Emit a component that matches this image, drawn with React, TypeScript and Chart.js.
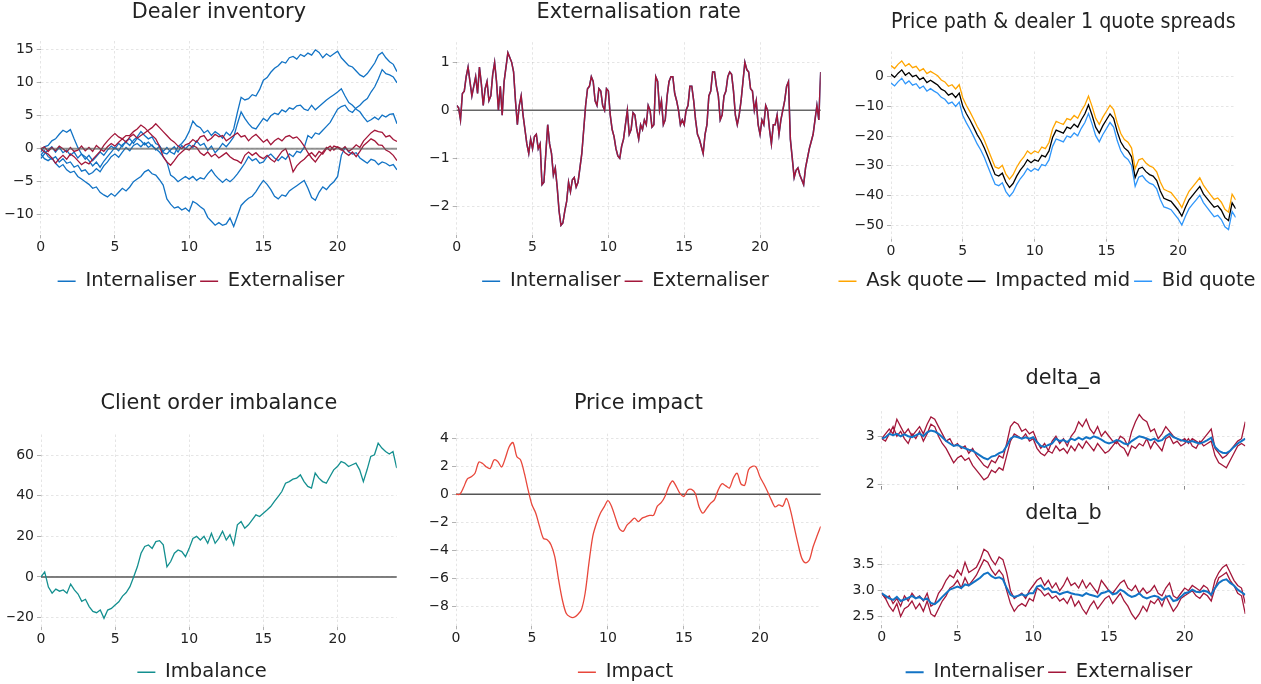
import React, { useEffect, useRef } from "react";
import { Chart, registerables } from "chart.js";

Chart.register(...registerables);

const FONT = "'DejaVu Sans', Verdana, sans-serif";
Chart.defaults.font.family = FONT;
Chart.defaults.color = "#222";

// time grids: 0 .. 24 in quarter steps (97 samples) and eighth steps (193 samples)
const TIMES: number[] = Array.from({ length: 97 }, (_, i) => i / 4);
const TIMES_FINE: number[] = Array.from({ length: 193 }, (_, i) => i / 8);

// ---------- Dealer inventory ----------
const INV_INT_1 = [
  -0.5, 0.3, 0.5, 1.2, 1.5, 2.2, 2.8, 2.5, 2.9, 1.5, 0.2, -0.8, -1.2,
  -1.8, -2.6, -2.0, -2.8, -1.9, -1.2, -0.5, 0.2, -0.3, 0.6, 1.0, 0.5,
  1.3, 1.8, 2.6, 2.0, 1.5, 1.8, 0.8, 0.5, -0.4, 0.2, -0.5, -0.8,
  0.3, 0.8, 1.5, 2.6, 4.2, 3.5, 3.2, 2.4, 2.8, 2.0, 2.6, 2.2,
  1.6, 2.5, 2.0, 3.0, 5.5, 7.8, 7.4, 7.6, 8.2, 8.0, 9.0, 10.4,
  10.8, 11.6, 12.2, 12.6, 13.2, 13.0, 13.8, 14.0, 13.6, 14.3, 14.0, 14.5,
  14.2, 15.0, 14.6, 13.8, 14.4, 14.0, 14.4, 14.8, 13.8, 13.2, 12.6, 12.4,
  11.8, 11.2, 10.9, 11.4, 12.2, 13.0, 14.2, 14.6, 13.8, 13.2, 12.8, 11.7,
];
const INV_INT_2 = [
  -1.0, -0.3, -1.2, -1.6, -1.2, -2.0, -1.5, -2.2, -2.0, -2.8, -2.5, -3.4, -3.2,
  -3.9, -3.6, -3.0, -3.5, -2.6, -2.0, -1.2, -0.8, -1.3, -0.5, 0.2, -0.3,
  0.5, 0.8, 0.3, 0.9, 0.2, 0.6, -0.2, 0.4, -0.6, -0.8, -0.2, 0.3,
  -0.5, 0.5, 0.0, 0.6, 0.2, 1.2, 0.5, 0.8, -0.2, 0.4, -0.6, 0.0,
  0.8, 0.3, 1.0, 1.8, 3.8, 5.6, 4.6, 3.8, 3.2, 3.0, 3.8, 4.6,
  4.2, 5.0, 5.4, 5.2, 5.9, 5.6, 6.2, 6.0, 6.5, 6.6, 6.0, 5.8,
  6.6, 5.9, 6.4, 6.9, 7.4, 7.8, 8.2, 8.6, 9.1, 8.0, 7.0, 6.6,
  6.0, 5.6, 4.8, 4.1, 4.4, 4.8, 4.4, 5.1, 4.8, 5.2, 5.3, 3.8,
];
const INV_INT_3 = [
  -1.5, -0.8, -0.2, 0.3, -0.5, 0.2, -0.6, -0.2, -1.0, -0.5, -1.4, -0.8, -1.6,
  -1.0, -1.8, -1.2, -0.5, -1.0, -0.2, 0.4, 0.0, 0.8, 0.3, 1.2, 1.5,
  0.8, 1.6, 1.2, 0.6, 1.0, 0.4, 0.0, -0.5, -1.2, -2.0, -4.0, -4.4,
  -5.0, -4.6, -4.2, -4.6, -4.2, -4.8, -4.4, -4.6, -3.8, -3.2, -4.0, -4.6,
  -5.1, -4.6, -5.0, -4.5, -3.8, -3.0, -2.2, -1.2, -1.8, -1.5, -2.2, -2.0,
  -1.2, -0.8, -1.4, -1.8, -1.2, -1.6, -0.8, -1.2, -0.4, -0.6, 0.2, 2.0,
  1.6, 2.4, 2.2, 2.8, 3.4, 4.0, 5.0, 6.0, 6.4, 6.6, 5.8, 5.5,
  6.2, 6.6, 7.2, 7.6, 8.6, 9.4, 10.6, 12.0, 11.4, 11.2, 10.9, 10.0,
];
const INV_INT_4 = [
  -0.8, -1.5, -1.8, -1.4, -2.2, -2.8, -2.4, -3.2, -3.6, -3.4, -4.2, -4.6, -5.0,
  -5.4, -6.0, -5.8, -6.6, -7.0, -7.3, -6.8, -7.2, -6.6, -6.0, -6.4, -5.8,
  -5.0, -4.6, -4.2, -3.5, -3.2, -3.8, -4.0, -4.7, -5.5, -7.6, -8.4, -9.0,
  -8.8, -9.3, -9.0, -9.5, -8.0, -8.3, -8.8, -9.2, -10.4, -11.0, -11.6, -11.2,
  -11.6, -11.4, -10.5, -11.8, -10.2, -8.6, -8.0, -7.5, -7.2, -6.5, -5.6, -4.8,
  -5.4, -6.2, -7.2, -7.6, -7.0, -7.2, -6.4, -6.0, -5.6, -5.2, -4.8, -6.0,
  -7.4, -7.8, -6.6, -5.8, -6.2, -5.5, -5.0, -4.2, -1.0, 0.2, -0.5, -0.8,
  -0.6, -1.4, -1.8, -2.2, -1.6, -1.8, -2.4, -2.0, -2.2, -2.6, -2.4, -3.2,
];
const INV_EXT_1 = [
  0.0, 0.3, -0.4, 0.2, -0.3, 0.4, 0.0, -0.5, 0.2, -0.4, -0.2, 0.4, -0.3,
  0.2, -0.4, 0.5, 0.0, -0.4, 0.3, 0.8, 0.4, 1.0, 1.5, 1.0, 1.8,
  2.2, 1.6, 2.0, 2.4, 2.8, 3.2, 3.8, 3.2, 2.6, 2.0, 1.4, 1.0,
  0.4, 0.0, 0.6, 0.8, 1.4, 1.0, 1.8, 2.0, 1.2, 1.6, 2.2, 1.8,
  2.0, 1.2, 1.6, 2.0, 2.4, 1.8, 2.0, 1.2, 1.8, 2.2, 1.6, 1.0,
  1.4, 0.6, 1.2, 1.6, 1.2, 1.8, 2.0, 1.6, 1.8, 1.2, 0.4, -0.6,
  -1.4, -2.0, -1.2, -0.5, 0.2, -0.3, 0.4, 0.2, -0.2, 0.3, -0.4, 0.0,
  0.6, 0.2, 1.2, 1.8, 2.4, 2.8, 2.6, 2.5, 1.8, 2.0, 1.4, 1.1,
];
const INV_EXT_2 = [
  0.0, -0.5, -0.8, -1.4, -2.2, -1.5, -1.0, -1.6, -0.8, -1.2, -1.8, -2.4, -2.0,
  -2.3, -1.6, -1.0, -0.4, 0.5, 1.2, 1.8, 2.3, 1.8, 1.5, 2.0, 2.0,
  2.6, 3.0, 3.6, 3.2, 2.6, 2.0, 1.5, 0.4, -1.2, -2.0, -2.5, -1.8,
  -1.0, -0.5, 0.0, -0.2, 0.5, 0.2, -0.6, -1.0, -0.5, -1.2, -0.8, -1.4,
  -1.0, -0.6, -1.2, -1.6, -1.8, -2.2, -1.0, -0.5, -1.0, -0.6, -1.2, -1.5,
  -1.0, -1.6, -2.0, -1.2, -0.4, 0.0, -1.4, -3.5, -2.6, -2.0, -1.6, -1.0,
  -0.6, -1.2, -0.4, -0.8, 0.0, 0.4, -0.2, 0.3, 0.0, -0.6, -1.0, -0.5,
  -1.2, -0.4, 0.5, 1.0, 1.5, 1.2, 0.6, 0.5, -0.2, -0.5, -1.0, -1.8,
];

// ---------- Externalisation rate (eighth steps, one row per unit of time) ----------
const EXT_RATE = [
  0.1, 0.05, -0.2, 0.35, 0.4, 0.7, 0.9, 0.6,
  0.3, 0.5, 0.7, 0.35, 0.9, 0.55, 0.1, 0.45,
  0.6, 0.2, 0.3, 0.75, 1.0, 0.6, 0.0, 0.5,
  -0.1, 0.6, 0.9, 1.2, 1.1, 1.0, 0.8, 0.2,
  -0.3, 0.1, 0.3, -0.1, -0.4, -0.7, -0.9, -0.6,
  -0.8, -0.55, -0.5, -0.8, -0.7, -1.55, -1.5, -0.9,
  -0.3, -0.7, -0.9, -1.35, -1.2, -1.6, -2.1, -2.4,
  -2.35, -2.1, -1.9, -1.5, -1.7, -1.45, -1.4, -1.6,
  -1.5, -1.2, -0.9, -0.4, 0.1, 0.45, 0.5, 0.7,
  0.6, 0.2, 0.1, 0.45, 0.4, 0.1, 0.0, 0.45,
  0.4, -0.1, -0.4, -0.55, -0.8, -0.95, -1.0, -0.75,
  -0.6, -0.3, 0.0, -0.5, -0.4, -0.05, -0.1, -0.4,
  -0.6, -0.3, -0.4, -0.2, -0.3, 0.1, 0.0, -0.35,
  -0.3, 0.7, 0.6, 0.0, 0.2, -0.3, -0.2, 0.3,
  0.6, 0.7, 0.7, 0.35, 0.2, 0.0, -0.3, -0.2,
  -0.3, 0.0, 0.1, 0.5, 0.5, 0.2, -0.2, -0.5,
  -0.6, -0.75, -0.9, -0.5, -0.3, 0.3, 0.4, 0.8,
  0.8, 0.5, 0.3, -0.2, -0.1, 0.3, 0.4, 0.7,
  0.8, 0.75, 0.4, -0.1, -0.3, -0.1, 0.2, 0.6,
  1.0, 0.85, 0.8, 0.45, 0.4, 0.0, 0.2, -0.3,
  -0.5, -0.2, -0.3, 0.1, 0.0, -0.4, -0.7, -0.3,
  -0.3, -0.1, -0.5, -0.2, 0.0, 0.2, 0.5, 0.6,
  -0.6, -1.0, -1.4, -1.25, -1.2, -1.35, -1.45, -1.55,
  -1.2, -1.0, -0.8, -0.65, -0.5, -0.2, 0.1, -0.2,
  0.8,
];

// ---------- Price path (impacted mid) ----------
const MID_PRICE = [
  0.8, -0.2, 1.2, 2.3, 0.5, 1.4, 0.0, 0.5, -1.0, -0.3, -2.0, -1.2, -2.0,
  -2.8, -4.2, -4.8, -6.2, -5.6, -7.0, -5.5, -10.0, -12.5, -14.6, -17.0, -19.5,
  -21.5, -24.0, -27.0, -30.0, -33.0, -33.5, -32.5, -35.5, -37.3, -36.0, -33.5, -31.5,
  -30.0, -28.0, -29.0, -28.0, -28.5, -26.5, -27.0, -25.0, -20.5, -18.0, -18.5, -19.0,
  -17.0, -17.5, -16.0, -17.0, -14.5, -12.5, -9.5, -13.0, -17.0, -19.0, -16.5, -14.5,
  -12.5, -14.0, -18.5, -22.0, -24.0, -25.0, -27.0, -34.0, -31.0, -30.5, -32.0, -33.0,
  -33.5, -35.0, -38.5, -41.0, -41.5, -42.0, -43.5, -45.0, -47.0, -44.0, -41.5, -40.0,
  -38.5, -37.0, -39.5, -41.0, -42.5, -44.0, -43.5, -45.0, -47.5, -48.5, -42.5, -44.5,
];

// ---------- Quote spreads delta_a ----------
const DELTA_A_INT = [
  2.95, 2.98, 3.05, 3.02, 3.05, 3.0, 3.04, 3.0, 2.98, 3.02, 3.06, 3.0, 3.08,
  3.12, 3.1, 3.05, 2.98, 2.9, 2.85, 2.8, 2.82, 2.78, 2.75, 2.72, 2.7,
  2.65, 2.6, 2.55, 2.52, 2.58, 2.6, 2.65, 2.68, 2.8, 2.95, 3.0, 2.98,
  2.95, 2.98, 2.95, 2.98, 2.88, 2.8, 2.78, 2.82, 2.85, 2.95, 2.9, 2.92,
  2.88, 2.95, 2.92, 2.97, 2.93, 2.98, 2.95, 3.0, 2.97, 2.93, 2.88, 2.85,
  2.88, 2.92, 2.9, 2.85, 2.83, 2.9, 2.95, 3.0, 2.98, 2.95, 2.92, 2.95,
  2.9, 2.92, 3.0, 3.05, 2.98, 2.95, 2.92, 2.9, 2.88, 2.9, 2.87, 2.85,
  2.88, 2.92, 2.97, 2.78, 2.7, 2.66, 2.65, 2.7, 2.78, 2.85, 2.9, 2.95,
];
const DELTA_A_EXT_1 = [
  2.95, 3.05, 3.15, 3.05, 3.35, 3.2, 3.05, 3.15, 3.0, 3.1, 3.2, 3.05, 3.25,
  3.4, 3.35, 3.2, 3.05, 2.9, 2.95, 2.8, 2.85, 2.75, 2.8, 2.65, 2.75,
  2.6, 2.5, 2.4, 2.35, 2.5, 2.45, 2.6, 2.55, 2.85, 3.2, 3.3, 3.25,
  3.1, 3.15, 3.05, 3.1, 2.9, 2.75, 2.85, 2.7, 2.9, 3.0, 2.85, 2.95,
  2.8, 3.0, 3.1, 3.3, 3.2, 3.35, 3.15, 3.05, 3.2, 3.0, 3.1, 3.0,
  2.9, 2.85, 3.0, 2.95, 2.8, 3.1, 3.3, 3.45, 3.35, 3.3, 3.1, 3.15,
  2.95, 3.05, 3.2, 3.1, 3.0, 2.95, 2.9, 2.95, 2.85, 2.95, 2.9, 2.85,
  2.95, 3.05, 3.15, 2.75, 2.65, 2.55, 2.6, 2.7, 2.8, 2.9, 2.95, 3.3,
];
const DELTA_A_EXT_2 = [
  2.95, 2.9, 3.05, 3.2, 3.0, 3.1, 2.95, 2.85, 3.05, 2.95, 3.1, 2.9, 3.05,
  3.25, 3.2, 3.0, 2.85, 2.75, 2.6, 2.45, 2.55, 2.6, 2.5, 2.55, 2.4,
  2.3, 2.2, 2.1, 2.15, 2.3, 2.25, 2.35, 2.3, 2.6, 2.9, 3.05, 3.0,
  2.95, 3.05, 2.9, 2.95, 2.75, 2.65, 2.6, 2.7, 2.65, 2.8, 2.7, 2.75,
  2.65, 2.8, 2.7, 2.85, 2.75, 2.9, 2.8, 2.7, 2.85, 2.75, 2.65, 2.7,
  2.8, 2.9, 2.8, 2.75, 2.6, 2.8, 2.75, 2.85, 2.8, 2.95, 2.75, 2.9,
  2.8, 2.7, 2.95, 3.0, 2.85, 2.9, 2.8, 2.85, 2.95, 2.8, 2.75, 2.9,
  2.8, 2.85, 2.9, 2.6, 2.45, 2.4, 2.35, 2.5, 2.65, 2.8, 2.85, 2.8,
];

// ---------- Quote spreads delta_b ----------
const DELTA_B_INT = [
  2.95, 2.9, 2.85, 2.82, 2.88, 2.8, 2.83, 2.86, 2.9, 2.85, 2.88, 2.82, 2.85,
  2.76, 2.74, 2.8, 2.88, 2.95, 3.02, 3.05, 3.08, 3.05, 3.12, 3.1, 3.15,
  3.2, 3.25, 3.32, 3.35, 3.28, 3.24, 3.26, 3.22, 3.05, 2.92, 2.88, 2.9,
  2.93, 2.9, 2.95, 2.95, 3.08, 3.1, 3.02, 3.05, 2.97, 2.98, 2.93, 2.96,
  2.98, 2.95, 2.93, 2.92, 2.9, 2.95, 2.92, 2.9, 2.88, 2.95, 2.97, 3.0,
  2.93, 2.95, 3.02, 2.98, 2.92, 2.88, 2.9, 2.95, 2.88, 2.85, 2.88, 2.9,
  2.88, 2.82, 2.88, 2.9, 2.8, 2.82, 2.88, 2.95, 2.97, 3.02, 2.98, 2.97,
  3.0, 2.98, 2.92, 3.05, 3.15, 3.2, 3.22, 3.15, 3.1, 3.02, 2.97, 2.92,
];
const DELTA_B_EXT_1 = [
  2.95, 2.85, 2.9, 2.75, 2.85, 2.7, 2.9, 2.8, 2.95, 2.85, 2.9, 2.8, 2.95,
  2.7, 2.75, 2.95, 3.05, 3.2, 3.3, 3.25, 3.4, 3.3, 3.55, 3.35, 3.4,
  3.45, 3.6, 3.8, 3.75, 3.6, 3.5, 3.65, 3.6, 3.35, 3.0, 2.85, 2.9,
  2.95, 2.85, 3.0, 3.1, 3.2, 3.25, 3.1, 3.2, 3.05, 3.15, 3.0, 3.1,
  3.25, 3.1, 3.15, 3.05, 3.2, 3.05, 3.15, 3.05, 2.95, 3.2, 3.1, 3.0,
  2.95, 3.05, 3.15, 3.2, 3.05, 3.0, 3.1, 2.95, 3.05, 2.95, 3.0, 3.1,
  2.95, 2.9, 3.05, 3.15, 2.9, 2.85, 2.95, 3.05, 3.0, 3.1, 3.05, 3.0,
  3.1, 3.05, 2.9, 3.2, 3.35, 3.45, 3.5, 3.35, 3.2, 3.1, 3.05, 2.75,
];
const DELTA_B_EXT_2 = [
  2.95, 2.85, 2.7, 2.6, 2.75, 2.5, 2.65, 2.7, 2.8, 2.65, 2.75, 2.6, 2.8,
  2.55, 2.5, 2.65, 2.8, 2.9, 3.05, 3.1, 3.2, 3.05, 3.25, 3.1, 3.2,
  3.3, 3.45, 3.6, 3.55, 3.4, 3.3, 3.4, 3.3, 3.0, 2.75, 2.6, 2.7,
  2.75, 2.7, 2.85, 2.8, 3.05, 3.0, 2.9, 2.95, 2.85, 2.9, 2.8, 2.85,
  2.75, 2.9, 2.7, 2.8, 2.65, 2.55, 2.7, 2.8, 2.65, 2.75, 2.85, 2.9,
  2.75, 2.85, 2.95, 2.8, 2.7, 2.55, 2.45, 2.55, 2.7, 2.6, 2.8, 2.75,
  2.85, 2.7, 2.9, 2.75, 2.6, 2.7, 2.85, 2.9, 2.95, 3.0, 2.9, 2.85,
  2.95, 2.9, 2.8, 3.05, 3.25, 3.3, 3.35, 3.2, 3.1, 2.95, 2.9, 2.55,
];

// dealer 1 quotes = impacted mid +/- its spreads
const ASK_QUOTE = MID_PRICE.map((m, i) => m + DELTA_A_INT[i]);
const BID_QUOTE = MID_PRICE.map((m, i) => m - DELTA_B_INT[i]);

// ---------- Client order imbalance ----------
const IMBALANCE = [
  0, 2.5, -5, -8, -6, -7, -6.4, -8, -3.5, -6.4, -8.4, -12, -11,
  -14.6, -17, -17.6, -16.3, -20.4, -16.3, -15.5, -13.8, -12.2, -9.4, -7.7, -4.8,
  0, 5, 11.7, 15, 15.8, 14.1, 17.4, 17.9, 15.8, 5, 7.6, 11.7,
  13.3, 12.5, 10, 14.1, 19, 20, 18.2, 20, 16.6, 21.5, 16.6, 19,
  22.5, 18.2, 20.8, 15.8, 25.7, 27.3, 24, 25.7, 28.1, 30.6, 29.8, 31.4,
  33, 34.7, 37.2, 39.6, 42.1, 46.2, 47, 48.2, 48.7, 50.3, 47, 44.6,
  43.8, 51.2, 48.7, 47, 46.2, 49.5, 52.8, 54.4, 56.9, 56.1, 54.4, 55.3,
  56.1, 52.8, 47, 52.8, 59.4, 60.2, 65.9, 63.5, 61.8, 60.6, 61.8, 53.6,
];

// ---------- Price impact ----------
const IMPACT = [
  0, 0, 0.5, 1.1, 1.25, 1.5, 2.3, 2.2, 1.95, 1.85, 2.45, 2.35, 1.95,
  2.6, 3.4, 3.7, 2.7, 2.45, 1.5, 0.3, -0.75, -1.35, -2.3, -3.15, -3.25,
  -3.6, -4.45, -6.1, -7.55, -8.5, -8.75, -8.8, -8.6, -8.25, -7.05, -4.9, -3.0,
  -2.05, -1.35, -0.9, -0.45, -0.9, -1.7, -2.45, -2.65, -2.2, -1.95, -1.7, -1.95,
  -1.7, -1.6, -1.5, -1.5, -0.85, -0.6, -0.15, 0.55, 0.95, 0.55, 0.05, -0.15,
  0.3, 0.35, 0.05, -0.9, -1.35, -1.0, -0.65, -0.4, 0.3, 0.75, 0.6, 0.45,
  1.15, 1.5, 0.75, 0.65, 1.75, 2.0, 1.95, 1.25, 0.75, 0.2, -0.4, -0.9,
  -0.75, -0.85, -0.3, -1.1, -2.3, -3.5, -4.55, -4.9, -4.7, -3.75, -3.0, -2.3,
];

// ---------- colours ----------
const C_INT = "#1273c5";
const C_EXT = "#a3173a";
const C_ASK = "#ffa500";
const C_MID = "#000000";
const C_BID = "#2f96fa";
const C_IMB = "#138f8f";
const C_IMP = "#e8473b";

type Series = {
  label: string;
  data: number[];
  times?: number[];
  color: string;
  width?: number;
  legend?: boolean;
  order?: number;
  tension?: number;
};

type Panel = {
  title: string;
  series: Series[];
  yMin: number;
  yMax: number;
  yStep: number;
  yDec?: number;
  left: number;
  top: number;
  w: number;
  h: number;
  padL: number;
  padR: number;
  yW: number;
  xH: number;
  rightSpacer?: number;
  titlePB: number;
  xLabels: boolean;
  legend: boolean;
  zero?: { color: string; width: number; above: boolean };
};

const fmt = (dec?: number) => (v: any) => {
  const n = Number(v);
  const s = dec ? n.toFixed(dec) : String(Math.round(n * 1000) / 1000);
  return s.replace("-", "\u2212");
};

const PANELS: Panel[] = [
  {
    title: "Dealer inventory",
    series: [
      { label: "Internaliser", data: INV_INT_1, color: C_INT, order: 1 },
      { label: "Internaliser", data: INV_INT_2, color: C_INT, order: 1, legend: false },
      { label: "Internaliser", data: INV_INT_3, color: C_INT, order: 1, legend: false },
      { label: "Internaliser", data: INV_INT_4, color: C_INT, order: 1, legend: false },
      { label: "Externaliser", data: INV_EXT_1, color: C_EXT, order: 0 },
      { label: "Externaliser", data: INV_EXT_2, color: C_EXT, order: 0, legend: false },
    ],
    yMin: -13.14, yMax: 16.34, yStep: 5,
    left: 0, top: 0, w: 397, h: 301, padL: 5, padR: 0, yW: 35.7, xH: 32.1, titlePB: 16.04,
    xLabels: true, legend: true,
    zero: { color: "rgba(90,90,90,0.65)", width: 2, above: true },
  },
  {
    title: "Externalisation rate",
    series: [
      { label: "Internaliser", data: EXT_RATE, times: TIMES_FINE, color: C_INT, order: 1, width: 1.5 },
      { label: "Externaliser", data: EXT_RATE, times: TIMES_FINE, color: C_EXT, order: 0, width: 1.5 },
    ],
    yMin: -2.6, yMax: 1.42, yStep: 1,
    left: 420, top: 0, w: 401, h: 301, padL: 10.3, padR: 0.3, yW: 26.4, xH: 32.5, titlePB: 17.24,
    xLabels: true, legend: true,
    zero: { color: "#666", width: 1.4, above: false },
  },
  {
    title: "Price path & dealer 1 quote spreads",
    series: [
      { label: "Ask quote", data: ASK_QUOTE, color: C_ASK },
      { label: "Impacted mid", data: MID_PRICE, color: C_MID },
      { label: "Bid quote", data: BID_QUOTE, color: C_BID },
    ],
    yMin: -54.6, yMax: 8.5, yStep: 10,
    left: 830, top: 10, w: 434, h: 291, padL: 0, padR: 0, yW: 61, xH: 28.8, rightSpacer: 28.3, titlePB: 16.54,
    xLabels: true, legend: true,
  },
  {
    title: "Client order imbalance",
    series: [{ label: "Imbalance", data: IMBALANCE, color: C_IMB }],
    yMin: -24.7, yMax: 70.2, yStep: 20,
    left: 0, top: 391, w: 397, h: 301, padL: 7.3, padR: 0.3, yW: 33.7, xH: 31.4, titlePB: 18.54,
    xLabels: true, legend: true,
    zero: { color: "#555", width: 1.4, above: false },
  },
  {
    title: "Price impact",
    series: [{ label: "Impact", data: IMPACT, color: C_IMP, tension: 0.3 }],
    yMin: -9.43, yMax: 4.33, yStep: 2,
    left: 420, top: 391, w: 401, h: 301, padL: 10.3, padR: 0.3, yW: 25.7, xH: 32.2, titlePB: 17.74,
    xLabels: true, legend: true,
    zero: { color: "#555", width: 1.4, above: false },
  },
  {
    title: "delta_a",
    series: [
      { label: "Internaliser", data: DELTA_A_INT, color: C_INT, order: 0, width: 2 },
      { label: "Externaliser", data: DELTA_A_EXT_1, color: C_EXT, order: 1 },
      { label: "Externaliser", data: DELTA_A_EXT_2, color: C_EXT, order: 1, legend: false },
    ],
    yMin: 1.98, yMax: 3.52, yStep: 1,
    left: 845, top: 366, w: 401, h: 131, padL: 7.7, padR: 0.7, yW: 29, xH: 8.3, titlePB: 20.14,
    xLabels: false, legend: false,
  },
  {
    title: "delta_b",
    series: [
      { label: "Internaliser", data: DELTA_B_INT, color: C_INT, order: 0, width: 2 },
      { label: "Externaliser", data: DELTA_B_EXT_1, color: C_EXT, order: 1 },
      { label: "Externaliser", data: DELTA_B_EXT_2, color: C_EXT, order: 1, legend: false },
    ],
    yMin: 2.33, yMax: 3.87, yStep: 0.5, yDec: 1,
    left: 845, top: 501, w: 401, h: 191, padL: 7.7, padR: 0.7, yW: 29, xH: 33.2, titlePB: 19.74,
    xLabels: true, legend: true,
  },
];

const GRID_COLOR = "rgba(0,0,0,0.13)";
const TICK_COLOR = "rgba(0,0,0,0.3)";

function PanelChart({ p }: { p: Panel }) {
  const ref = useRef<HTMLCanvasElement | null>(null);

  useEffect(() => {
    const canvas = ref.current;
    if (!canvas) return;

    function drawZero(chart: any) {
      const z = p.zero!;
      const y = chart.scales.y.getPixelForValue(0);
      const { left, right } = chart.chartArea;
      const ctx = chart.ctx;
      ctx.save();
      ctx.strokeStyle = z.color;
      ctx.lineWidth = z.width;
      ctx.beginPath();
      ctx.moveTo(left, y);
      ctx.lineTo(right, y);
      ctx.stroke();
      ctx.restore();
    }
    const zeroPlugin = {
      id: "zeroLine",
      beforeDatasetsDraw(chart: any) {
        if (p.zero && !p.zero.above) drawZero(chart);
      },
      afterDatasetsDraw(chart: any) {
        if (p.zero && p.zero.above) drawZero(chart);
      },
    };

    const scales: any = {
      x: {
        type: "linear",
        min: 0,
        max: 24,
        ticks: {
          stepSize: 5,
          includeBounds: false,
          display: p.xLabels,
          padding: 1,
          color: "#222",
          font: { family: FONT, size: 14 },
          maxRotation: 0,
          autoSkip: false,
          callback: fmt(),
        },
        grid: {
          color: GRID_COLOR,
          lineWidth: 0.8,
          drawTicks: true,
          tickLength: p.xLabels ? 3 : 4,
          tickColor: p.xLabels ? TICK_COLOR : "rgba(0,0,0,0.45)",
          tickWidth: 1,
        },
        border: { display: false, dash: [2.5, 2.5] },
        afterFit: (s: any) => {
          s.height = p.xH;
        },
      },
      y: {
        type: "linear",
        position: "left",
        min: p.yMin,
        max: p.yMax,
        ticks: {
          stepSize: p.yStep,
          includeBounds: false,
          padding: 3,
          color: "#222",
          font: { family: FONT, size: 14 },
          callback: fmt(p.yDec),
        },
        grid: {
          color: GRID_COLOR,
          lineWidth: 0.8,
          drawTicks: true,
          tickLength: 4,
          tickColor: TICK_COLOR,
          tickWidth: 1,
        },
        border: { display: false, dash: [2.5, 2.5] },
        afterFit: (s: any) => {
          s.width = p.yW;
        },
      },
    };
    if (p.rightSpacer) {
      scales.ySpacer = {
        type: "linear",
        position: "right",
        display: true,
        grid: { display: false, drawTicks: false },
        ticks: { display: false },
        border: { display: false },
        afterFit: (s: any) => {
          s.width = p.rightSpacer;
        },
      };
    }

    const chart = new Chart(canvas, {
      type: "line",
      data: {
        datasets: p.series.map((s) => {
          const ts = s.times || TIMES;
          return {
            label: s.label,
            data: ts.map((t, k) => ({ x: t, y: s.data[k] })),
            borderColor: s.color,
            backgroundColor: s.color,
            borderWidth: s.width ?? 1.3,
            pointRadius: 0,
            pointHoverRadius: 0,
            tension: s.tension ?? 0,
            fill: false,
            order: s.order ?? 0,
            showInLegend: s.legend !== false,
          };
        }) as any,
      },
      options: {
        animation: false,
        responsive: false,
        maintainAspectRatio: false,
        events: [],
        layout: {
          autoPadding: false,
          padding: { left: p.padL, right: p.padR, top: 0, bottom: 0 },
        },
        scales,
        plugins: {
          tooltip: { enabled: false },
          title: {
            display: true,
            text: p.title,
            fullSize: false,
            color: "#222",
            font: { family: FONT, size: 20.8, weight: "normal", lineHeight: 1.2 },
            padding: { top: 0, bottom: p.titlePB },
          },
          legend: {
            display: p.legend,
            position: "bottom",
            fullSize: true,
            labels: {
              usePointStyle: true,
              pointStyle: "line",
              pointStyleWidth: 18,
              padding: 4,
              color: "#222",
              font: { family: FONT, size: 19.5 },
              filter: (item: any, data: any) =>
                !!data.datasets[item.datasetIndex].showInLegend,
              sort: (a: any, b: any) => a.datasetIndex - b.datasetIndex,
            },
          },
        } as any,
      } as any,
      plugins: p.zero ? [zeroPlugin] : [],
    });

    return () => chart.destroy();
  }, []);

  return (
    <canvas
      ref={ref}
      width={p.w}
      height={p.h}
      style={{
        position: "absolute",
        left: p.left,
        top: p.top,
        width: p.w,
        height: p.h,
      }}
    />
  );
}

export default function App() {
  return (
    <div
      style={{
        position: "absolute",
        left: 0,
        top: 0,
        width: 1261,
        height: 684,
        overflow: "hidden",
        background: "#ffffff",
      }}
    >
      {PANELS.map((p, i) => (
        <PanelChart key={i} p={p} />
      ))}
    </div>
  );
}
